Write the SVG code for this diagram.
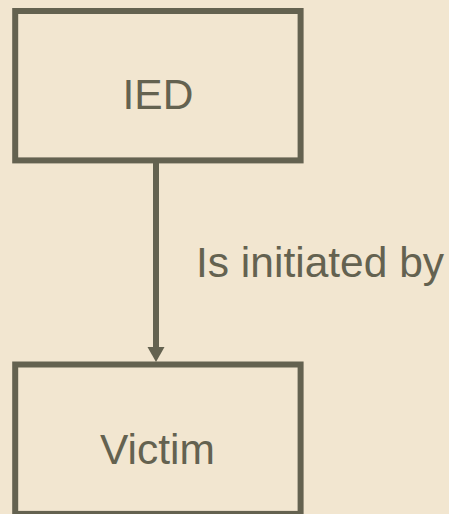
<svg xmlns="http://www.w3.org/2000/svg" width="449" height="514" viewBox="0 0 449 514">
<style>
.box{fill:#F2E6D0;stroke:#646250;stroke-width:6}
.lbl{font-family:"Liberation Sans",Arial,sans-serif;font-size:42.5px;fill:#646250}
.edge{stroke:#646250;stroke-width:6;fill:none}
</style>
<rect x="0" y="0" width="449" height="514" fill="#F2E6D0"/>
<g id="node-ied">
<rect class="box" x="15.2" y="11" width="285.4" height="149.4"/>
<text class="lbl" x="158" y="108.5" text-anchor="middle">IED</text>
</g>
<g id="node-victim">
<rect class="box" x="15.2" y="364.5" width="285.4" height="149.4"/>
<text class="lbl" x="157.5" y="464" text-anchor="middle">Victim</text>
</g>
<g id="connectors">
<line class="edge" x1="156" y1="163" x2="156" y2="348"/>
<polygon points="147.5,347 164.5,347 156,362" fill="#646250"/>
<text class="lbl" x="196" y="276.5">Is initiated by</text>
</g>
</svg>
